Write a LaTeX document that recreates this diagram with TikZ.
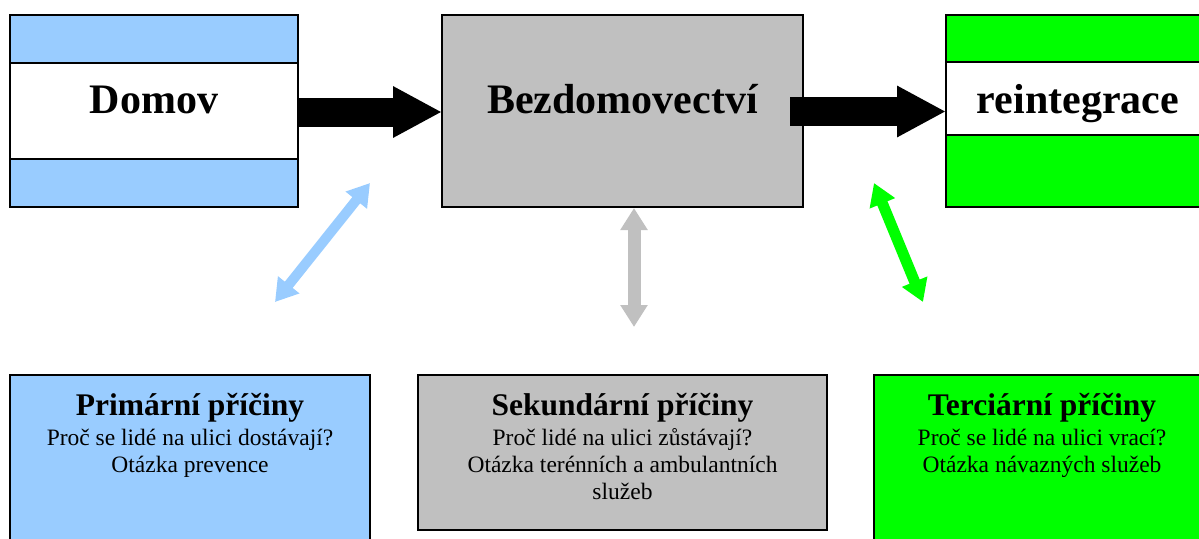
\documentclass[tikz,border=0pt]{standalone}
\usepackage{fontspec}
\setmainfont{Liberation Serif}
\usetikzlibrary{arrows.meta}
\definecolor{lblue}{HTML}{99CCFF}
\definecolor{lgray}{HTML}{C0C0C0}
\definecolor{lgreen}{HTML}{00FF00}
\tikzset{
  box/.style={draw=black, line width=2pt, inner sep=0pt, outer sep=0pt},
  band/.style={draw=black, line width=1.5pt, fill=white},
  bigtxt/.style={font=\fontsize{42}{48}\selectfont\bfseries, anchor=base, inner sep=0pt},
  ttl/.style={font=\fontsize{31.5}{36}\selectfont\bfseries, anchor=base, inner sep=0pt},
  body/.style={font=\fontsize{23.5}{27}\selectfont, anchor=base, inner sep=0pt},
  blockarrow/.style={line width=29pt, -{Triangle[length=49pt,width=48pt]}},
  dblarrow/.style={line width=#1, {Triangle[length=22pt,width=26pt]}-{Triangle[length=22pt,width=26pt]}},
}
\begin{document}
\begin{tikzpicture}[x=1pt,y=-1pt]
\useasboundingbox (0,0) rectangle (1199,538);
\clip (0,0) rectangle (1199,538);
% top boxes
\path[box, fill=lblue] (10,15) rectangle (298,207);
\path[band] (10,63) rectangle (298,159);
\node[box, minimum width=288pt, minimum height=192pt] (dom) at (154,111) {};
\node[box, fill=lgray, minimum width=361pt, minimum height=192pt] (bez) at (622.5,111) {};
\path[box, fill=lgreen] (946,15) rectangle (1210,207);
\path[band] (946,62) rectangle (1210,135);
\node[box, minimum width=264pt, minimum height=192pt] (rei) at (1078,111) {};
\node[bigtxt] (tdom) at (154,113) {Domov};
\node[bigtxt] (tbez) at (622.5,113) {Bezdomovectví};
\node[bigtxt] (trei) at (1078,113) {reintegrace};
% block arrows
\coordinate (a1s) at (dom.east |- 0,112);
\coordinate (a1e) at (bez.west |- 0,112);
\draw[blockarrow] (a1s) -- (a1e);
\coordinate (a2s) at (790,111.5);
\coordinate (a2e) at (rei.west |- 0,111.5);
\draw[blockarrow] (a2s) -- (a2e);
% bottom boxes
\node[box, fill=lblue, minimum width=360pt, minimum height=180pt, anchor=north west] (prim) at (10,375) {};
\node[box, fill=lgray, minimum width=409pt, minimum height=155pt, anchor=north west] (sek) at (418,375) {};
\node[box, fill=lgreen, minimum width=340pt, minimum height=180pt, anchor=north west] (ter) at (874,375) {};
\node[ttl] (p1) at (190,415) {Primární příčiny};
\node[body] (p2) at (190,445) {Proč se lidé na ulici dostávají?};
\node[body] (p3) at (190,472) {Otázka prevence};
\node[ttl] (s1) at (622.5,415) {Sekundární příčiny};
\node[body] (s2) at (622.5,445) {Proč lidé na ulici zůstávají?};
\node[body] (s3) at (622.5,472) {Otázka terénních a ambulantních};
\node[body] (s4) at (622.5,499) {služeb};
\node[ttl] (t1) at (1042,415) {Terciární příčiny};
\node[body] (t2) at (1042,445) {Proč se lidé na ulici vrací?};
\node[body] (t3) at (1042,472) {Otázka návazných služeb};
% double arrows
\coordinate (bA) at (275,302);
\coordinate (bB) at (370,183);
\draw[dblarrow=10pt, draw=lblue, fill=lblue] (bA) -- (bB);
\coordinate (gA) at (634,208);
\coordinate (gB) at (634,327);
\draw[dblarrow=13pt, draw=lgray, fill=lgray] (gA) -- (gB);
\coordinate (nA) at (874,183);
\coordinate (nB) at (923,302);
\draw[dblarrow=11pt, draw=lgreen, fill=lgreen] (nA) -- (nB);
\end{tikzpicture}
\end{document}
